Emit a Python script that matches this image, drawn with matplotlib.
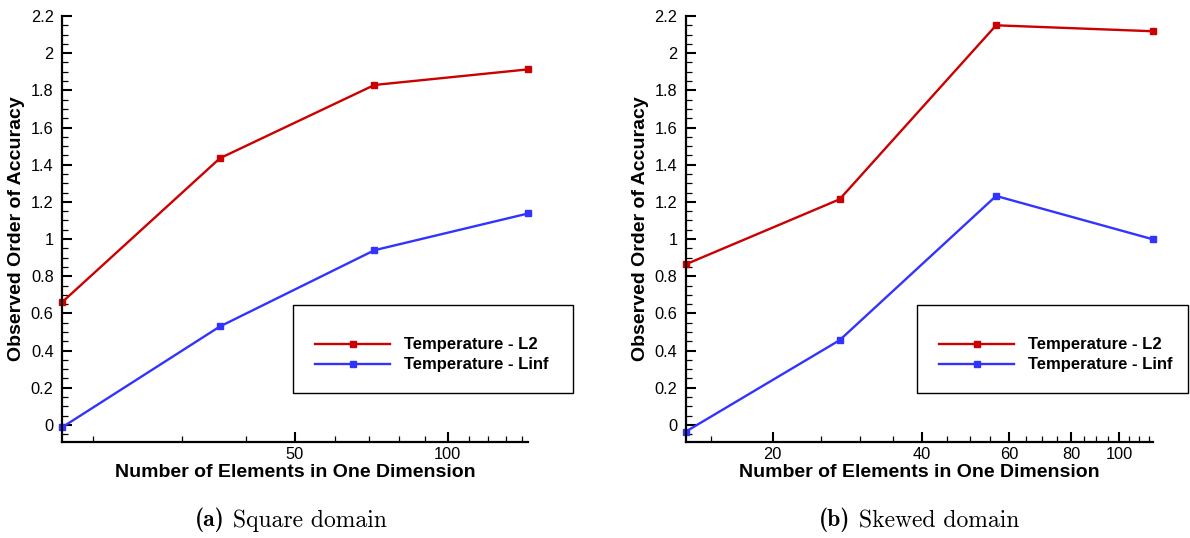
import numpy as np
import matplotlib
matplotlib.use('Agg')
import matplotlib.pyplot as plt
from matplotlib.ticker import FixedLocator, FuncFormatter, NullFormatter
from matplotlib.patches import Rectangle
from matplotlib.text import Annotation

# (a) square domain
sq_n = [17.4, 35.6, 71.7, 144.0]
sq_l2 = [0.66, 1.435, 1.829, 1.913]
sq_linf = [-0.013, 0.53, 0.94, 1.138]

# (b) skewed domain
sk_n = [13.35, 27.3, 56.5, 117.0]
sk_l2 = [0.864, 1.214, 2.15, 2.118]
sk_linf = [-0.036, 0.456, 1.232, 0.999]

sq_major = [50, 100]
sq_minor = [20, 30, 40, 60, 70, 80, 90, 110, 120, 130, 140]
sk_major = [20, 40, 60, 80, 100]
sk_minor = [15, 25, 30, 35, 45, 50, 55, 65, 70, 75, 85, 90, 95, 105, 110, 115]

labels = ['Temperature - L2', 'Temperature - Linf']
captions = [('(a)', 'Square domain'), ('(b)', 'Skewed domain')]

red = '#cc0000'
blue = '#3333ff'
sans = 'Liberation Sans'

fig = plt.figure(figsize=(11.9, 5.38), dpi=100)
W, H = 1190, 538

panels = [
    (62, 528.3, sq_n, sq_l2, sq_linf, sq_major, sq_minor, (293, 573)),
    (685.7, 1152.7, sk_n, sk_l2, sk_linf, sk_major, sk_minor, (917, 1188)),
]

for i, (x0, x1, n, l2, linf, major, minor, leg) in enumerate(panels):
    ax = fig.add_axes([x0 / W, 1 - 441.7 / H, (x1 - x0) / W, (441.7 - 16) / H])
    ax.plot(n, l2, color=red, lw=1.7, marker='s', ms=5, label=labels[0])
    ax.plot(n, linf, color=blue, lw=1.7, marker='s', ms=5, label=labels[1])
    ax.set_xscale('log')
    ax.set_xlim(n[0], n[-1])
    ax.set_ylim(-0.09, 2.2)
    for m in ax.lines:
        m.set_clip_on(False)

    ax.xaxis.set_major_locator(FixedLocator(major))
    ax.xaxis.set_minor_locator(FixedLocator(minor))
    ax.xaxis.set_major_formatter(FuncFormatter(lambda v, p: '%g' % v))
    ax.xaxis.set_minor_formatter(NullFormatter())
    ax.yaxis.set_major_locator(FixedLocator(np.arange(0, 2.21, 0.2)))
    ax.yaxis.set_minor_locator(FixedLocator(np.arange(-0.05, 2.2, 0.05)))
    ax.yaxis.set_major_formatter(FuncFormatter(lambda v, p: '%g' % round(v, 2)))

    for s in ['top', 'right']:
        ax.spines[s].set_visible(False)
    for s in ['left', 'bottom']:
        ax.spines[s].set_linewidth(1.6)
    ax.tick_params(which='major', direction='in', length=7.2, width=1.5,
                   labelsize=11.8, pad=6)
    ax.tick_params(which='minor', direction='in', length=4, width=0.9)
    ax.tick_params(axis='x', which='major', pad=4)
    for t in ax.get_xticklabels() + ax.get_yticklabels():
        t.set_fontfamily(sans)

    ax.set_xlabel('Number of Elements in One Dimension', fontsize=14,
                  fontweight='bold', family=sans, labelpad=1)
    ax.set_ylabel('Observed Order of Accuracy', fontsize=14,
                  fontweight='bold', family=sans, labelpad=4)

    # legend box
    lx0, lx1 = leg
    fig.patches.append(Rectangle((lx0 / W, 1 - 393 / H), (lx1 - lx0) / W, 88 / H,
                                 transform=fig.transFigure, fill=False,
                                 edgecolor='black', lw=1.0))
    ax.legend(loc='upper left', frameon=False,
              prop={'family': sans, 'weight': 'bold', 'size': 12},
              bbox_to_anchor=((lx0 + 14) / W, 1 - 329 / H),
              bbox_transform=fig.transFigure, handlelength=4.5,
              handletextpad=0.8, labelspacing=0.3, borderpad=0)

    cx = (x0 + x1) / 2 / W
    tb = fig.text(cx - 0.084, 0.022, captions[i][0], family='cmb10', fontsize=17,
                  va='baseline', ha='left')
    fig.add_artist(Annotation(
        ' ' + captions[i][1], xy=(1, 0), xycoords=tb, va='bottom', ha='left',
        family='cmr10', fontsize=17))

fig.savefig('out.png', dpi=100)
